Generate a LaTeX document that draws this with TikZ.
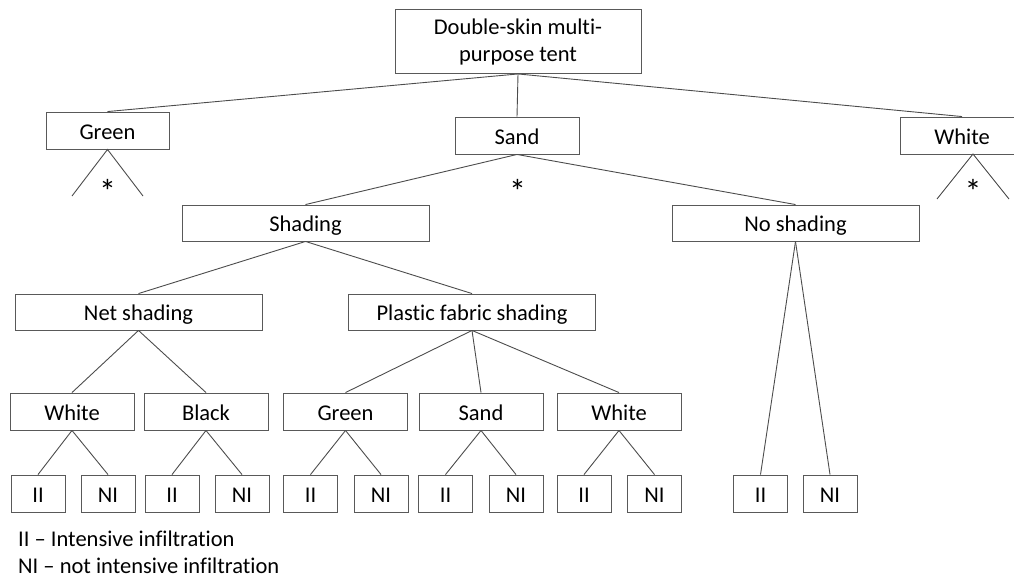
\documentclass[tikz,border=0pt]{standalone}
\usepackage{fontspec}
\setmainfont{Carlito}[Ligatures={NoCommon}]
\begin{document}
\begin{tikzpicture}[x=1pt,y=-1pt,
  txt/.style={font=\fontsize{22.5}{27}\selectfont},
  box/.style={draw=black!65, line width=0.9pt, minimum height=37pt, inner sep=0pt, txt, text height=18pt, text depth=1pt},
  leaf/.style={box, minimum width=54pt},
  mid/.style={box, minimum width=124pt},
  wide/.style={box, minimum width=247pt, minimum height=36pt},
  conn/.style={draw=black!70, line width=0.9pt},
  lbl/.style={inner sep=0pt, txt},
  star/.style={inner sep=0pt, font=\fontsize{34}{34}\selectfont, anchor=base}]
\clip (0,0) rectangle (1014,579);
% level 0
\node[draw=black!65, line width=0.9pt, minimum width=246pt, minimum height=64pt, inner sep=0pt, txt, align=center] (root) at (518,41.5) {Double-skin multi-\\purpose tent};
% level 1
\node[box, minimum width=123pt] (green) at (107.5,130.5) {Green};
\node[mid] (sand) at (517,135.5) {Sand};
\node[mid] (white) at (962,135.5) {White};
% level 2
\node[wide] (shading) at (305.5,223) {Shading};
\node[wide] (noshading) at (795.5,223) {No shading};
% level 3
\node[wide] (net) at (138.5,312) {Net shading};
\node[wide] (plastic) at (472,312) {Plastic fabric shading};
% level 4
\node[mid] (nwhite) at (72,411.5) {White};
\node[mid] (nblack) at (206,411.5) {Black};
\node[mid] (pgreen) at (345.5,411.5) {Green};
\node[mid] (psand) at (481,411.5) {Sand};
\node[mid] (pwhite) at (619,411.5) {White};
% leaves
\node[leaf] (a1) at (38,493.5) {II};
\node[leaf] (a2) at (108,493.5) {NI};
\node[leaf] (b1) at (172,493.5) {II};
\node[leaf] (b2) at (242,493.5) {NI};
\node[leaf] (c1) at (310.5,493.5) {II};
\node[leaf] (c2) at (381,493.5) {NI};
\node[leaf] (d1) at (445.5,493.5) {II};
\node[leaf] (d2) at (516,493.5) {NI};
\node[leaf] (e1) at (584,493.5) {II};
\node[leaf] (e2) at (654.5,493.5) {NI};
\node[leaf] (f1) at (760.5,493.5) {II};
\node[leaf] (f2) at (830,493.5) {NI};
% stars
\node[star] (s1) at (107.5,203.5) {*};
\node[star] (s2) at (517.5,203.5) {*};
\node[star] (s3) at (973,203.5) {*};
% triangle ends
\coordinate (g1) at (72,196);
\coordinate (g2) at (143,196);
\coordinate (wapex) at (973,154);
\coordinate (w1) at (937,199);
\coordinate (w2) at (1009,199);
% connectors
\draw[conn] (root.south) -- (green.north);
\draw[conn] (root.south) -- (sand.north);
\draw[conn] (root.south) -- (white.north);
\draw[conn] (g1) -- (green.south) -- (g2);
\draw[conn] (w1) -- (wapex) -- (w2);
\draw[conn] (sand.south) -- (shading.north);
\draw[conn] (sand.south) -- (noshading.north);
\draw[conn] (shading.south) -- (net.north);
\draw[conn] (shading.south) -- (plastic.north);
\draw[conn] (net.south) -- (nwhite.north);
\draw[conn] (net.south) -- (nblack.north);
\draw[conn] (plastic.south) -- (pgreen.north);
\draw[conn] (plastic.south) -- (psand.north);
\draw[conn] (plastic.south) -- (pwhite.north);
\draw[conn] (nwhite.south) -- (a1.north);
\draw[conn] (nwhite.south) -- (a2.north);
\draw[conn] (nblack.south) -- (b1.north);
\draw[conn] (nblack.south) -- (b2.north);
\draw[conn] (pgreen.south) -- (c1.north);
\draw[conn] (pgreen.south) -- (c2.north);
\draw[conn] (psand.south) -- (d1.north);
\draw[conn] (psand.south) -- (d2.north);
\draw[conn] (pwhite.south) -- (e1.north);
\draw[conn] (pwhite.south) -- (e2.north);
\draw[conn] (noshading.south) -- (f1.north);
\draw[conn] (noshading.south) -- (f2.north);
% legend
\node[lbl, anchor=west] (leg1) at (18,539) {II – Intensive infiltration};
\node[lbl, anchor=west] (leg2) at (18,566) {NI – not intensive infiltration};
\end{tikzpicture}
\end{document}
